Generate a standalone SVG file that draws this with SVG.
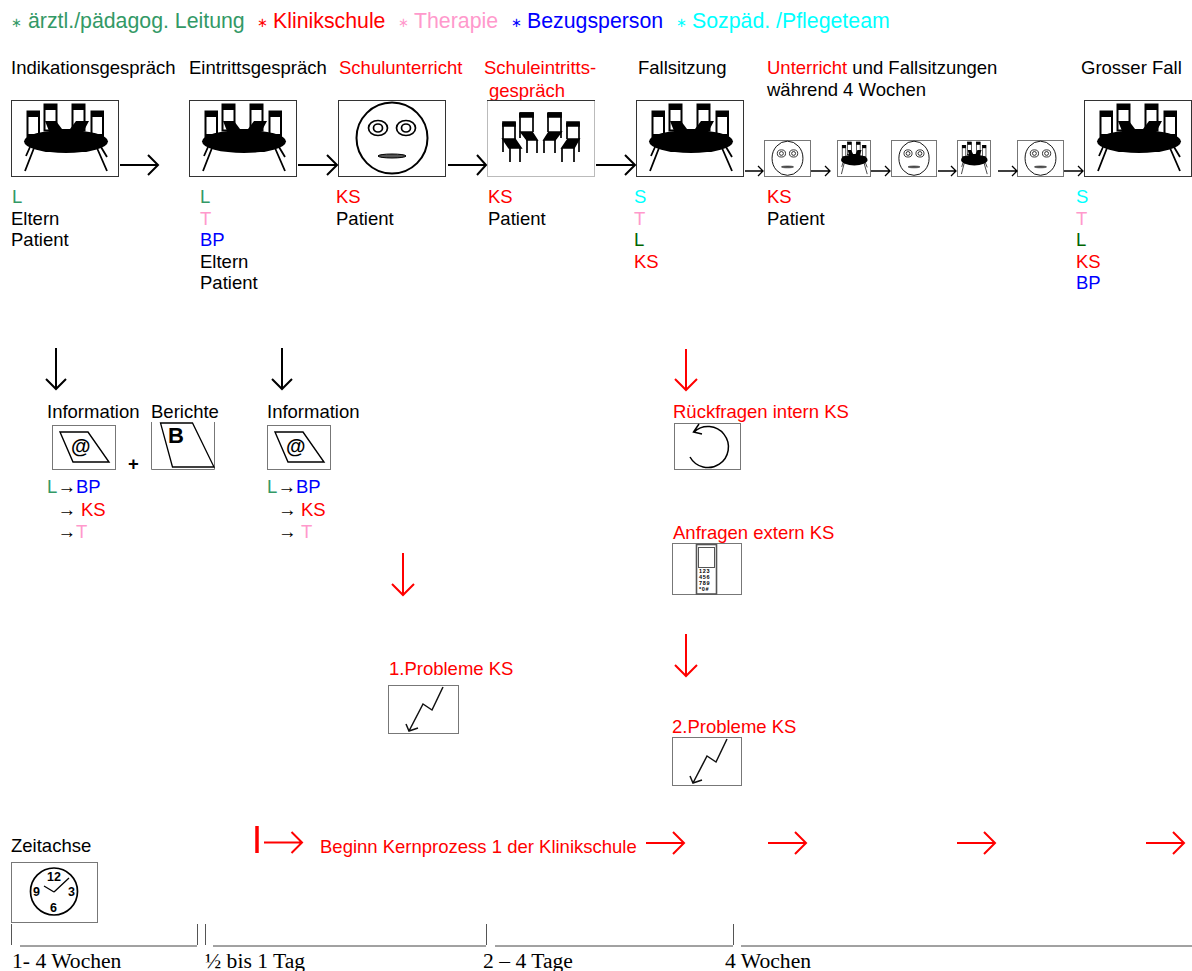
<svg xmlns="http://www.w3.org/2000/svg" width="1192" height="971" viewBox="0 0 1192 971">
<style>
text{font-family:"Liberation Sans",Arial,sans-serif;font-size:18.5px;fill:#000}
.lg{font-size:21.3px}
.st{font-family:"DejaVu Sans",sans-serif;font-size:13px}
.ts{font-family:"Liberation Serif","Times New Roman",serif;font-size:21.6px}
.ta{font-size:18.4px}
.g{fill:#339966}.r{fill:#f00}.p{fill:#f9c}.b{fill:#00f}.c{fill:#0ff}.dg{fill:#060}
.box{fill:#fff;stroke:#333;stroke-width:1}
.box2{fill:#fff;stroke:#777;stroke-width:1}
.ar{fill:none;stroke:#000;stroke-width:2}
.ar1{fill:none;stroke:#000;stroke-width:1.3}
.ra{fill:none;stroke:#f00;stroke-width:2}
.k{font-size:5.5px;font-weight:bold;letter-spacing:.7px}
.h{font-size:12.5px;font-weight:bold}
</style>
<defs>
<symbol id="table" viewBox="0 0 108 77" preserveAspectRatio="none">
<g fill="#fff" stroke="#000" stroke-width="2">
<rect x="16.500" y="11.500" width="11.500" height="30"/>
<rect x="33.500" y="4.500" width="12" height="26"/>
<rect x="61.500" y="4.500" width="12" height="26"/>
<rect x="80.500" y="11.500" width="11.500" height="30"/>
</g>
<rect x="16" y="11" width="12.500" height="6"/><rect x="33" y="4" width="13" height="6"/><rect x="61" y="4" width="13" height="6"/><rect x="80" y="11" width="12.500" height="6"/>
<path d="M34 21H45L51 29H59L65 21H78L70 36H40Z"/>
<path d="M17 34H28L32 40H17ZM91 34H80L76 40H91Z"/>
<ellipse cx="55" cy="41.500" rx="42" ry="11.500"/>
<path d="M23 48L14 71M19 47L15 56M86 48L96 71M90 47L96 57" stroke="#000" stroke-width="1.800" fill="none"/>
</symbol>
<symbol id="face" viewBox="0 0 108 77" preserveAspectRatio="none">
<circle cx="54" cy="38" r="35.500" fill="none" stroke="#000" stroke-width="2"/>
<g fill="none" stroke="#000" stroke-width="1.700"><ellipse cx="40" cy="28" rx="9.500" ry="7.500"/><ellipse cx="40" cy="28" rx="4.500" ry="4"/><ellipse cx="68" cy="28" rx="9.500" ry="7.500"/><ellipse cx="68" cy="28" rx="4.500" ry="4"/></g>
<ellipse cx="54" cy="56" rx="14" ry="2" fill="#555" stroke="#000"/>
</symbol>
<symbol id="zig" viewBox="0 0 70 48" preserveAspectRatio="none">
<path d="M55 2L44 25L35 19L21 46M18 39L21 46L30 43" fill="none" stroke="#111" stroke-width="1.500"/>
</symbol>
<symbol id="mail" viewBox="0 0 63 44" preserveAspectRatio="none">
<path d="M8 7H36L57 37H21Z" fill="#fff" stroke="#000" stroke-width="1.400"/>
<text x="19" y="28" style="font-size:20px;font-weight:bold">@</text>
</symbol>
</defs>

<g id="legend">
<text class="st g" x="11" y="27">∗</text><text class="lg g" x="28" y="28">ärztl./pädagog. Leitung</text>
<text class="st r" x="257" y="27">∗</text><text class="lg r" x="273" y="28">Klinikschule</text>
<text class="st p" x="398" y="27">∗</text><text class="lg p" x="414" y="28">Therapie</text>
<text class="st b" x="511" y="27">∗</text><text class="lg b" x="527" y="28">Bezugsperson</text>
<text class="st c" x="676" y="27">∗</text><text class="lg c" x="692" y="28">Sozpäd. /Pflegeteam</text>
</g>

<g id="n-indikation">
<text x="11" y="74">Indikationsgespräch</text>
<rect class="box" x="11.500" y="100.500" width="107" height="76"/><use href="#table" x="11" y="100" width="108" height="77"/>
<text class="g" x="12" y="203">L</text><text x="11" y="225">Eltern</text><text x="11" y="246">Patient</text>
</g>
<g id="n-eintritt">
<text x="189" y="74">Eintrittsgespräch</text>
<rect class="box" x="189.500" y="100.500" width="107" height="76"/><use href="#table" x="189" y="100" width="108" height="77"/>
<text class="g" x="200" y="203">L</text><text class="p" x="200" y="225">T</text><text class="b" x="200" y="246">BP</text><text x="200" y="268">Eltern</text><text x="200" y="289">Patient</text>
</g>
<g id="n-schule">
<text class="r" x="339" y="74">Schulunterricht</text>
<rect class="box" x="338.500" y="100.500" width="107" height="76"/><use href="#face" x="338" y="100" width="108" height="77"/>
<text class="r" x="336" y="203">KS</text><text x="336" y="225">Patient</text>
</g>
<g id="n-schuleintritt">
<text class="r" x="484" y="74">Schuleintritts-</text><text class="r" x="489" y="97">gespräch</text>
<rect x="487.500" y="100.500" width="107" height="76" fill="#fff" stroke="#bbb"/><path d="M487 100.500H595" stroke="#333"/>
<g fill="none" stroke="#000" stroke-width="1.700" transform="translate(487 100)">
<path d="M16 23H28V39M16 23V52M33 13H46V32M33 13V38M61 13H74V38M61 13V32M80 23H92V52M80 23V39"/>
<path d="M23 48V62M33 48V62M40 40V53M50 40V53M57 40V53M68 40V53M75 48V62M87 48V62"/>
<path d="M16 22h12v4h-12zM33 13h13v4h-13zM61 13h13v4h-13zM80 22h12v4h-12z" fill="#000"/>
<path d="M16 39H28L34 48H22ZM34 32H45L50 40H40ZM74 32H62L57 40H68ZM92 39H81L75 48H87Z" fill="#000"/>
</g>
<text class="r" x="488" y="203">KS</text><text x="488" y="225">Patient</text>
</g>
<g id="n-fallsitzung">
<text x="638" y="74">Fallsitzung</text>
<rect class="box" x="636.500" y="100.500" width="107" height="76"/><use href="#table" x="636" y="100" width="108" height="77"/>
<text class="c" x="634" y="203">S</text><text class="p" x="634" y="225">T</text><text class="dg" x="634" y="246">L</text><text class="r" x="634" y="268">KS</text>
</g>
<g id="n-unterricht">
<text x="767" y="74"><tspan class="r">Unterricht</tspan> und Fallsitzungen</text><text x="767" y="96">während 4 Wochen</text>
<rect class="box2" x="764.500" y="140.500" width="46" height="36"/><use href="#face" x="764" y="140" width="47" height="37"/>
<rect class="box2" x="837.500" y="140.500" width="33" height="36"/><use href="#table" x="837" y="140" width="34" height="37"/>
<rect class="box2" x="891.500" y="140.500" width="45" height="36"/><use href="#face" x="891" y="140" width="46" height="37"/>
<rect class="box2" x="957.500" y="140.500" width="33" height="36"/><use href="#table" x="957" y="140" width="34" height="37"/>
<rect class="box2" x="1017.500" y="140.500" width="46" height="36"/><use href="#face" x="1017" y="140" width="47" height="37"/>
<text class="r" x="767" y="203">KS</text><text x="767" y="225">Patient</text>
</g>
<g id="n-grosser-fall">
<text x="1081" y="74">Grosser Fall</text>
<rect class="box" x="1084.500" y="100.500" width="107" height="76"/><use href="#table" x="1084" y="100" width="108" height="77"/>
<text class="c" x="1076" y="203">S</text><text class="p" x="1076" y="225">T</text><text class="dg" x="1076" y="246">L</text><text class="r" x="1076" y="268">KS</text><text class="b" x="1076" y="289">BP</text>
</g>

<g id="n-info1">
<text x="47" y="418">Information</text>
<rect class="box2" x="52.500" y="425.500" width="63" height="44"/><use href="#mail" x="52" y="425" width="63" height="44"/>
<text x="128" y="470" style="font-weight:bold">+</text>
<text class="g" x="47" y="493">L</text><text class="ta" x="57.500" y="493">→</text><text class="b" x="76" y="493">BP</text>
<text class="ta" x="57.500" y="516">→</text><text class="r" x="81" y="516">KS</text>
<text class="ta" x="57.500" y="538">→</text><text class="p" x="76" y="538">T</text>
</g>
<g id="n-berichte">
<text x="151" y="418">Berichte</text>
<path d="M151.500 422V469.500H214.500V422" fill="none" stroke="#777"/>
<path d="M160.500 423H192.500L214 467H172.500Z" fill="none" stroke="#000" stroke-width="1.300"/>
<text x="168" y="443" style="font-size:22px;font-weight:bold">B</text>
</g>
<g id="n-info2">
<text x="267" y="418">Information</text>
<rect class="box2" x="267.500" y="425.500" width="63" height="44"/><use href="#mail" x="267" y="425" width="63" height="44"/>
<text class="g" x="267" y="493">L</text><text class="ta" x="277.500" y="493">→</text><text class="b" x="296" y="493">BP</text>
<text class="ta" x="278" y="516">→</text><text class="r" x="301" y="516">KS</text>
<text class="ta" x="278" y="538">→</text><text class="p" x="301" y="538">T</text>
</g>
<g id="n-rueckfragen">
<text class="r" x="673" y="418">Rückfragen intern KS</text>
<rect class="box2" x="674.500" y="423.500" width="66" height="46"/>
<path d="M690 457A20.500 20.500 0 1 0 694 432M699 424L693.500 432L702 434" fill="none" stroke="#000" stroke-width="1.500"/>
</g>
<g id="n-anfragen">
<text class="r" x="673" y="539">Anfragen extern KS</text>
<rect class="box2" x="672.500" y="543.500" width="69" height="51"/>
<rect x="696.500" y="544.500" width="20" height="49.500" fill="#fff" stroke="#555" stroke-width="1.600"/>
<rect x="698.500" y="547.500" width="16" height="20" fill="#fff" stroke="#555"/>
<text class="k" x="699" y="573">123</text><text class="k" x="699" y="579">456</text><text class="k" x="699" y="585">789</text><text class="k" x="699" y="591">*0#</text>
</g>
<g id="n-problem1">
<text class="r" x="389" y="675">1.Probleme KS</text>
<rect class="box2" x="388.500" y="685.500" width="70" height="48"/><use href="#zig" x="388" y="685" width="70" height="48"/>
</g>
<g id="n-problem2">
<text class="r" x="672" y="733">2.Probleme KS</text>
<rect class="box2" x="672.500" y="737.500" width="69" height="48"/><use href="#zig" x="672" y="737" width="70" height="48"/>
</g>
<g id="n-zeitachse">
<text x="11" y="852">Zeitachse</text>
<rect class="box2" x="11.500" y="862.500" width="86" height="60"/>
<circle cx="54" cy="891.500" r="23.500" fill="none" stroke="#000" stroke-width="1.700"/>
<path d="M54 892L69 878M54 892L44 886" fill="none" stroke="#000" stroke-width="1.300"/>
<text class="h" x="47" y="881">12</text><text class="h" x="33" y="896">9</text><text class="h" x="68" y="896">3</text><text class="h" x="50" y="912">6</text>
</g>

<g id="timeline">
<path d="M11.500 924V945M197.500 924V945M205.500 924V945M486.500 924V945M733.500 924V945" stroke="#555" fill="none"/>
<path d="M20 946H197M213 946H486M495 946H733M741 946H1192" stroke="#444" fill="none"/>
<text class="ts" x="12" y="968">1- 4 Wochen</text>
<text class="ts" x="205" y="968">½ bis 1 Tag</text>
<text class="ts" x="483" y="968">2 – 4 Tage</text>
<text class="ts" x="725" y="968">4 Wochen</text>
</g>

<g id="connectors">
<path class="ar" d="M120 165H158M148 155L158 165L148 175"/>
<path class="ar" d="M298 165H336M327 155L337 165L327 175"/>
<path class="ar" d="M448 165H486M477 155L486 165L477 175"/>
<path class="ar" d="M596 165H634M625 155L635 165L625 175"/>
<path class="ar1" d="M745 171H763M758 166L763 171L758 176"/>
<path class="ar1" d="M811 171H830M825 166L830 171L825 176"/>
<path class="ar1" d="M871 171H890M885 166L890 171L885 176"/>
<path class="ar1" d="M938 171H956M951 166L956 171L951 176"/>
<path class="ar1" d="M998 171H1017M1012 166L1017 171L1012 176"/>
<path class="ar1" d="M1064 171H1083M1078 166L1083 171L1078 176"/>
<path class="ar" d="M56 348V389M46 379L56 389L66 379"/>
<path class="ar" d="M282 348V389M272 379L282 389L292 379"/>
<path class="ra" d="M686 349V390M675 379L686 390L697 379"/>
<path class="ra" d="M403 553V595M392 584L403 595L414 584"/>
<path class="ra" d="M686 634V676M675 665L686 676L697 665"/>
<path d="M257 826V853" stroke="#f00" stroke-width="3.500" fill="none"/>
<path class="ra" d="M264 842.500H302M291.500 832L302 842.500L291.500 853"/>
<text class="r" x="320" y="853">Beginn Kernprozess 1 der Klinikschule</text>
<path class="ra" d="M646 843H684M673 832L684 843L673 854"/>
<path class="ra" d="M768 843H806M795 832L806 843L795 854"/>
<path class="ra" d="M957 843H995M984 832L995 843L984 854"/>
<path class="ra" d="M1146 843H1184M1173 832L1184 843L1173 854"/>
</g>
</svg>
